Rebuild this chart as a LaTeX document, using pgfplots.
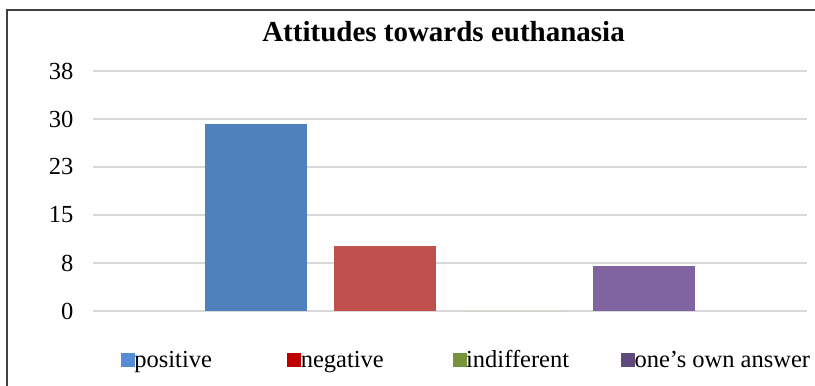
\documentclass[border=0pt]{standalone}
\usepackage{fontspec}
\setmainfont{Liberation Serif}
\usepackage{pgfplots}
\pgfplotsset{compat=1.18}
\definecolor{barblue}{HTML}{4F81BD}
\definecolor{barred}{HTML}{C0504D}
\definecolor{bargreen}{HTML}{9BBB59}
\definecolor{barpurple}{HTML}{8064A2}
\definecolor{legblue}{HTML}{558ED5}
\definecolor{legred}{HTML}{C00000}
\definecolor{leggreen}{HTML}{77933C}
\definecolor{legpurple}{HTML}{604A7B}
\definecolor{gridgray}{HTML}{D9D9D9}
\definecolor{framegray}{HTML}{404040}
\begin{document}
\begin{tikzpicture}
\useasboundingbox (0pt,0pt) rectangle (815pt,386pt);
\begin{axis}[
  at={(93pt,75pt)}, anchor=south west,
  scale only axis, width=714pt, height=240pt,
  ybar, bar width=102pt,
  xmin=-1, xmax=1, ymin=0, ymax=37.5,
  xtick=\empty,
  ytick={0,7.5,15,22.5,30,37.5},
  yticklabels={0,8,15,23,30,38},
  /pgf/number format/assume math mode=true,
  yticklabel style={font=\fontsize{24.5}{28}\selectfont, xshift=-16pt},
  major tick length=0pt,
  axis line style={draw=none},
  ymajorgrids, grid style={gridgray, line width=1.5pt},
  clip=false,
  title={Attitudes towards euthanasia},
  title style={font=\bfseries\fontsize{29}{34}\selectfont, anchor=base,
    at={(axis description cs:0.491,1)}, yshift=23pt},
  legend columns=4,
  legend style={at={(axis description cs:0.0392,-0.204)}, anchor=west,
    draw=none, fill=none, inner sep=0pt, outer sep=0pt,
    font=\fontsize{24.5}{28}\selectfont,
    /tikz/every even column/.append style={column sep=0pt},
    /tikz/every odd column/.append style={column sep=0pt},
    nodes={inner sep=0pt, anchor=west}},
]
\addplot[fill=barblue, draw=none, forget plot, bar shift=-194.25pt] coordinates {(0,29.2)};
\addplot[fill=barred, draw=none, forget plot, bar shift=-64.75pt] coordinates {(0,10.1)};
\addplot[fill=bargreen, draw=none, forget plot, bar shift=64.75pt] coordinates {(0,0)};
\addplot[fill=barpurple, draw=none, forget plot, bar shift=194.25pt] coordinates {(0,7.1)};
\addlegendimage{legend image code/.code={\fill[legblue] (0pt,-6.5pt) rectangle (13pt,6.5pt);}}
\addlegendentry{\makebox[153pt][l]{positive}}
\addlegendimage{legend image code/.code={\fill[legred] (0pt,-6.5pt) rectangle (13pt,6.5pt);}}
\addlegendentry{\makebox[152pt][l]{negative}}
\addlegendimage{legend image code/.code={\fill[leggreen] (0pt,-6.5pt) rectangle (13pt,6.5pt);}}
\addlegendentry{\makebox[155pt][l]{indifferent}}
\addlegendimage{legend image code/.code={\fill[legpurple] (0pt,-6.5pt) rectangle (13pt,6.5pt);}}
\addlegendentry{one’s own answer}
\end{axis}
\draw[framegray, line width=1.5pt] (7pt,-20pt) -- (7pt,376pt) -- (840pt,376pt);
\end{tikzpicture}
\end{document}
